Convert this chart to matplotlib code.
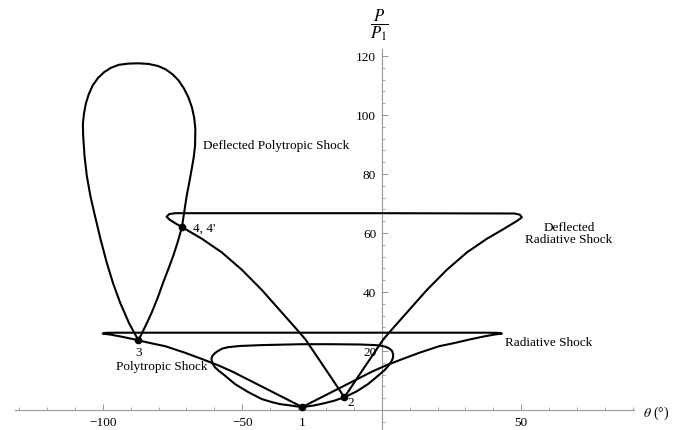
import matplotlib
matplotlib.use("Agg")
import matplotlib.pyplot as plt
from matplotlib.ticker import FixedLocator

plt.rcParams['font.family'] = ['Liberation Serif', 'DejaVu Serif']
plt.rcParams['mathtext.fontset'] = 'stix'

# --- data: (theta in degrees, P/P1) ---
polytropic_pts = [(-28.5, 1.0), (-24.5, 1.5), (-21.0, 2.2), (-17.2, 3.1), (-13.4, 4.3), (-9.0, 6.3),
                  (-4.9, 8.8), (-2.6, 10.6), (-0.6, 12.2), (1.0, 13.5), (2.3, 14.9), (3.3, 16.2),
                  (4.0, 17.6), (4.1, 18.8), (3.7, 20.0), (2.8, 20.8), (1.5, 21.4), (-0.3, 21.8),
                  (-2.4, 22.0), (-7.8, 22.2), (-18.6, 22.3), (-28.6, 22.3), (-42.9, 22.0),
                  (-50.8, 21.7), (-55.0, 21.3), (-57.2, 20.8), (-58.7, 20.0), (-59.9, 19.2),
                  (-60.7, 18.3), (-61.0, 17.5), (-61.0, 16.9), (-60.6, 15.7), (-59.8, 14.5),
                  (-58.3, 13.2), (-56.5, 11.9), (-52.6, 8.8), (-47.9, 6.1), (-43.0, 3.7),
                  (-39.5, 2.7), (-36.5, 2.0), (-32.4, 1.5), (-30.3, 1.2), (-28.5, 1.0)]

radiative_pts = [(-28.5, 1.0), (-18.5, 5.8), (-8.5, 10.6), (-3.5, 13.0), (1.5, 15.1), (7.5, 17.3),
                 (13.5, 19.4), (20.5, 21.6), (26.5, 22.8), (31.5, 23.9), (36.5, 24.9), (40.5, 25.6),
                 (43.0, 25.9), (42.0, 26.15), (38.0, 26.2), (-95.0, 26.2), (-99.0, 26.15),
                 (-100.0, 25.9), (-97.5, 25.6), (-93.5, 24.9), (-88.5, 23.9), (-87.2, 23.6),
                 (-83.5, 22.8), (-77.5, 21.6), (-70.5, 19.4), (-64.5, 17.3), (-58.5, 15.1),
                 (-53.5, 13.0), (-48.5, 10.6), (-38.5, 5.8), (-28.5, 1.0)]

defl_polytropic_pts = [(-87.2, 23.6), (-90.6, 29.5), (-93.8, 36.5), (-96.3, 43.0), (-98.6, 50.1),
                       (-100.8, 58.0), (-102.8, 65.9), (-104.4, 72.5), (-105.7, 79.4), (-106.5, 86.0),
                       (-107.0, 93.0), (-107.1, 97.0), (-106.7, 100.5), (-106.0, 104.0),
                       (-105.0, 107.0), (-103.6, 110.0), (-101.7, 112.5), (-99.5, 114.5),
                       (-97.0, 116.0), (-94.2, 117.0), (-90.8, 117.4), (-87.2, 117.5), (-83.6, 117.3),
                       (-80.2, 116.6), (-77.5, 115.5), (-75.0, 113.8), (-72.8, 111.7), (-70.9, 109.0),
                       (-69.3, 106.0), (-68.0, 102.5), (-67.2, 99.0), (-66.8, 95.3), (-66.9, 89.6),
                       (-67.4, 85.5), (-68.1, 81.7), (-69.0, 77.0), (-69.9, 72.6), (-70.8, 67.0),
                       (-71.6, 62.0), (-73.1, 57.0), (-74.7, 52.3), (-76.5, 47.7), (-78.3, 43.3),
                       (-80.3, 38.0), (-82.4, 33.1), (-84.8, 28.2), (-87.2, 23.6)]

defl_radiative_pts = [(-13.4, 4.3), (-7.4, 12.8), (0.6, 24.0), (4.1, 27.8), (10.1, 34.2), (16.1, 40.6),
                      (23.3, 47.5), (30.5, 53.4), (37.6, 58.0), (43.6, 61.3), (47.1, 63.3),
                      (49.1, 64.5), (50.2, 65.3), (49.5, 66.2), (47.5, 66.6), (0.0, 66.7),
                      (-74.0, 66.7), (-76.2, 66.4), (-77.1, 65.5), (-76.0, 64.5), (-74.0, 63.3),
                      (-71.6, 62.0), (-68.0, 60.0), (-64.4, 58.0), (-57.3, 53.4), (-50.1, 47.5),
                      (-42.9, 40.6), (-36.9, 34.2), (-30.9, 27.8), (-27.4, 24.0), (-19.4, 12.8),
                      (-13.4, 4.3)]

state_theta = [-28.5, -13.4, -87.2, -71.6]
state_P = [1.0, 4.3, 23.6, 62.0]
state_labels = ["1", "2", "3", "4, 4'"]

x_major = [-100, -50, 50]
x_minor = [-130, -120, -110, -90, -80, -70, -60, -40, -30, -20, -10, 10, 20, 30, 40, 60, 70, 80, 90]
y_major = [20, 40, 60, 80, 100, 120]
y_minor = [-4, 4, 8, 12, 16, 24, 28, 32, 36, 44, 48, 52, 56, 64, 68, 72, 76, 84, 88, 92, 96,
           104, 108, 112, 116]

fig = plt.figure(figsize=(6.77, 4.31), dpi=100)
ax = fig.add_axes([0, 0, 1, 1])
ax.set_xlim(-136.8, 105.8)
ax.set_ylim(-6.78, 139.3)

lw = 1.5
for pts in (polytropic_pts, radiative_pts, defl_polytropic_pts, defl_radiative_pts):
    t, p = zip(*pts)
    ax.plot(t, p, color='black', lw=lw, solid_joinstyle='round', solid_capstyle='round', zorder=3)
ax.plot(state_theta, state_P, 'o', color='black', ms=4.5, zorder=4)

axis_col = '#999999'
for s in ['top', 'right']:
    ax.spines[s].set_visible(False)
ax.spines['left'].set_position(('data', 0))
ax.spines['bottom'].set_position(('data', 0))
ax.spines['left'].set_bounds(-6.4, 122.4)
ax.spines['bottom'].set_bounds(-131.4, 90.5)
for s in ['left', 'bottom']:
    ax.spines[s].set_color(axis_col)
    ax.spines[s].set_linewidth(0.8)

ax.xaxis.set_major_locator(FixedLocator(x_major))
ax.xaxis.set_minor_locator(FixedLocator(x_minor))
ax.yaxis.set_major_locator(FixedLocator(y_major))
ax.yaxis.set_minor_locator(FixedLocator(y_minor))
ax.set_xticklabels([f"\u2212{abs(v)}" if v < 0 else str(v) for v in x_major])
ax.set_yticklabels([str(v) for v in y_major])
ax.tick_params(which='major', direction='in', length=4, width=0.7, color=axis_col,
               labelsize=9.5, pad=4, labelcolor='black')
ax.tick_params(which='minor', direction='in', length=2.2, width=0.6, color=axis_col)

fs = 9.5
ax.text(-64.2, 89.9, "Deflected Polytropic Shock", fontsize=fs, ha='left', va='center')
ax.text(67.1, 60.1, "Deflected\nRadiative Shock", fontsize=fs, ha='center', va='center',
        linespacing=1.0)
ax.text(44.2, 23.2, "Radiative Shock", fontsize=fs, ha='left', va='center')
ax.text(-78.9, 15.0, "Polytropic Shock", fontsize=fs, ha='center', va='center')

ax.text(state_theta[0], -4.1, state_labels[0], fontsize=fs, ha='center', va='center')
ax.text(-11.0, 2.6, state_labels[1], fontsize=fs, ha='center', va='center')
ax.text(-87.0, 19.6, state_labels[2], fontsize=fs, ha='center', va='center')
ax.text(-67.7, 61.7, state_labels[3], fontsize=fs, ha='left', va='center')

ax.text(93.7, -0.7, r"$\theta$ (°)", fontsize=10, ha='left', va='center')
ax.text(-1.0, 130.8, r"$\dfrac{P}{P_1}$", fontsize=12, ha='center', va='center')

fig.savefig("out.png", dpi=100)
